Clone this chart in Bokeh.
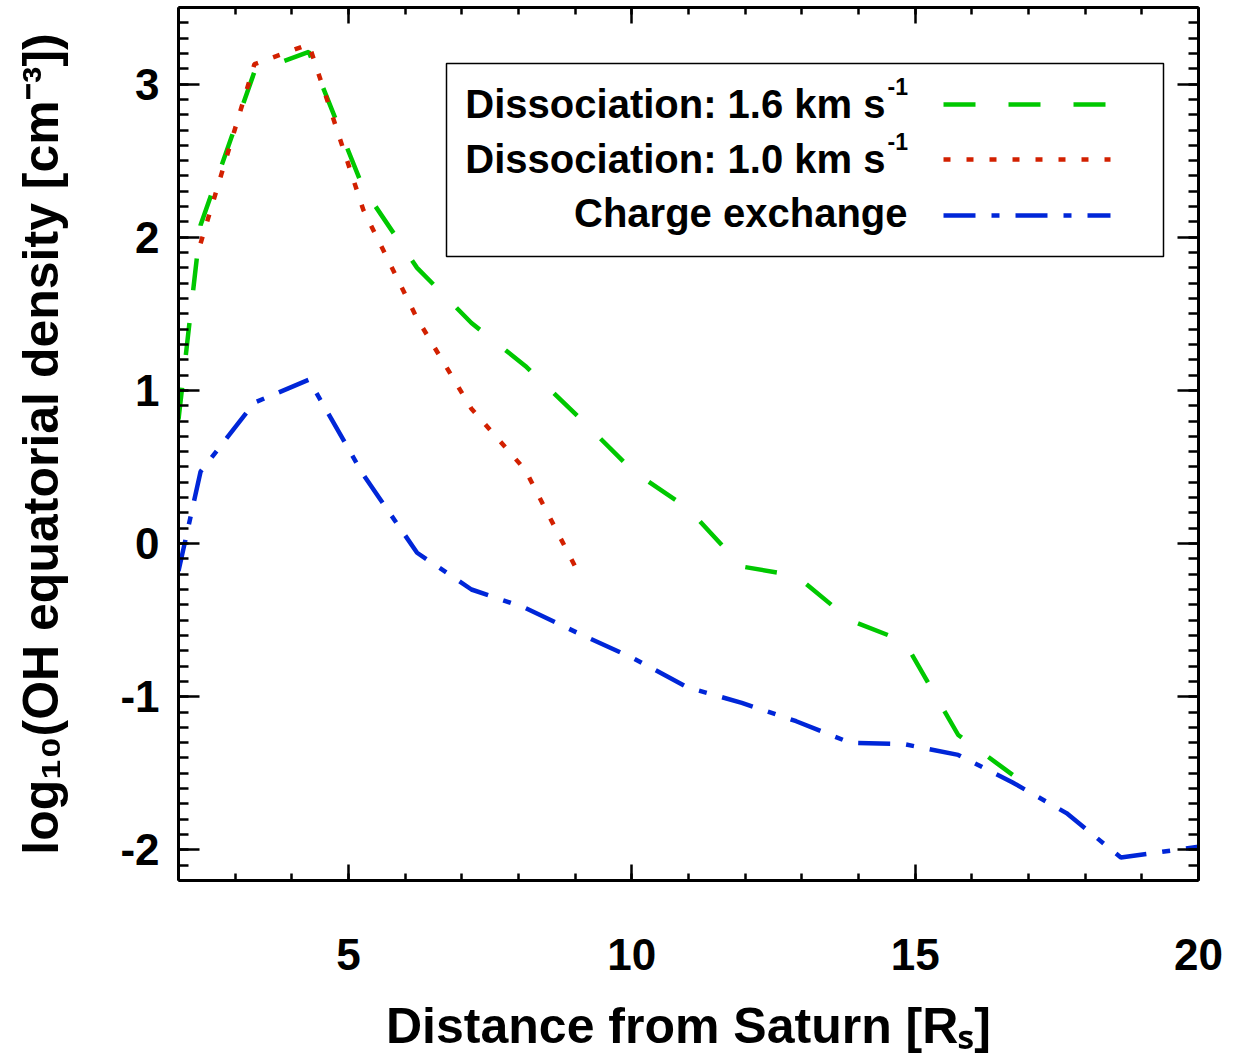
from bokeh.plotting import figure
from bokeh.models import (Label, BoxAnnotation, LinearAxis, SingleIntervalTicker,
                          Range1d)
from bokeh.embed import file_html
from bokeh.resources import INLINE

# ---------------- data ----------------
green_r = [2.00, 2.39, 3.34, 4.30, 5.26, 6.21, 7.17, 8.12, 9.08, 10.03, 10.99,
           11.94, 12.90, 13.85, 14.81, 15.76, 16.72]
green_logn = [0.81, 2.08, 3.08, 3.21, 2.32, 1.80, 1.44, 1.16, 0.82, 0.47, 0.23,
              -0.15, -0.21, -0.50, -0.64, -1.25, -1.51]

red_r = [2.39, 3.34, 4.30, 5.26, 6.21, 7.17, 8.12, 9.00]
red_logn = [1.96, 3.13, 3.26, 2.18, 1.47, 0.88, 0.48, -0.15]

blue_r = [2.00, 2.39, 3.34, 4.30, 5.26, 6.21, 7.17, 8.12, 9.08, 10.03, 10.99,
          11.94, 12.90, 13.85, 14.81, 15.76, 16.72, 17.67, 18.63, 20.00]
blue_logn = [-0.18, 0.47, 0.92, 1.07, 0.45, -0.06, -0.30, -0.42, -0.59, -0.75,
             -0.94, -1.04, -1.16, -1.30, -1.31, -1.38, -1.56, -1.76, -2.05, -1.98]

legend_labels = ["Dissociation: 1.6 km s", "Dissociation: 1.0 km s", "Charge exchange"]
legend_sups = ["-1", "-1", ""]

x_title = "Distance from Saturn [R\u209b]"
y_title = "log\u2081\u2080(OH equatorial density [cm\u207b\u00b3])"
y_tick_text = {-2: "-2", -1: "-1"}

x_ticks_interval = 5
y_ticks_interval = 1

GREEN = "#00c800"
RED = "#d22000"
BLUE = "#0026d8"
FONT = "Liberation Sans"

# ---------------- figure ----------------
XR = (2, 20)
YR = (-2.2, 3.5)
FRAME_W, FRAME_H = 1020, 873
PX_L, PY_T = 178, 7
p = figure(frame_width=FRAME_W, frame_height=FRAME_H,
           x_range=Range1d(*XR), y_range=Range1d(*YR),
           output_backend="svg", toolbar_location=None,
           min_border_left=PX_L, min_border_right=30,
           min_border_top=PY_T, min_border_bottom=1059 - PY_T - FRAME_H,
           x_axis_location=None, y_axis_location=None)
p.outline_line_color = None
p.grid.visible = False
p.background_fill_color = "white"
p.border_fill_color = "white"


# page-pixel -> data helpers (annotation layout only)
def dx(px):
    return XR[0] + (px - PX_L) * (XR[1] - XR[0]) / FRAME_W


def dy(py):
    return YR[1] - (py - PY_T) * (YR[1] - YR[0]) / FRAME_H


def make_axis(horizontal, labels):
    if horizontal:
        t = SingleIntervalTicker(interval=x_ticks_interval, num_minor_ticks=5)
    else:
        t = SingleIntervalTicker(interval=y_ticks_interval, num_minor_ticks=10)
    ax = LinearAxis(ticker=t)
    ax.axis_line_width = 3
    ax.axis_line_color = "black"
    ax.major_tick_out = 0
    ax.minor_tick_out = 0
    ax.major_tick_in = 16 if horizontal else 21
    ax.minor_tick_in = 7 if horizontal else 10
    ax.major_tick_line_width = 2.5
    ax.minor_tick_line_width = 2.5
    ax.major_tick_line_color = "black"
    ax.minor_tick_line_color = "black"
    if labels:
        ax.major_label_text_font = FONT
        ax.major_label_text_font_style = "bold"
        ax.major_label_text_font_size = "44px"
        ax.major_label_text_color = "black"
        ax.major_label_standoff = 58 if horizontal else 19
        ax.axis_label_text_font = FONT
        ax.axis_label_text_font_style = "bold"
        ax.axis_label_text_font_size = "50px"
        ax.axis_label_text_color = "black"
        if horizontal:
            ax.axis_label = x_title
            ax.axis_label_standoff = 25
        else:
            ax.axis_label = y_title
            ax.axis_label_standoff = 48
            ax.major_label_overrides = y_tick_text
    else:
        ax.major_label_text_font_size = "1px"
        ax.major_label_text_color = None
        ax.major_label_standoff = 0
    return ax


p.add_layout(make_axis(True, True), "below")
p.add_layout(make_axis(True, False), "above")
p.add_layout(make_axis(False, True), "left")
p.add_layout(make_axis(False, False), "right")

# ---------------- data lines ----------------
p.line(green_r, green_logn, line_color=GREEN, line_width=4.5, line_dash="32 33")
p.line(red_r, red_logn, line_color=RED, line_width=4.5, line_dash="7 16")
p.line(blue_r, blue_logn, line_color=BLUE, line_width=4.5, line_dash="32 16 8 16")

# ---------------- legend (labels left, samples right) ----------------
box = BoxAnnotation(left=dx(446), right=dx(1163), top=dy(63), bottom=dy(256),
                    fill_color="white", fill_alpha=1.0, line_color="black",
                    line_alpha=1.0, line_width=1.5, level="underlay")
p.add_layout(box)

row_line_y = [104, 159, 215]
row_text_y = [103, 158, 212]      # anchor rows for 40px labels
row_sup_y = [86, 141]             # anchor rows for superscripts
styles = [(GREEN, "32 33"), (RED, "7 16"), (BLUE, "32 16 8 16")]
for i, (lab, sup) in enumerate(zip(legend_labels, legend_sups)):
    col, dash = styles[i]
    p.line([dx(943), dx(1110)], [dy(row_line_y[i]), dy(row_line_y[i])],
           line_color=col, line_width=4.5, line_dash=dash)
    right_px = 885 if sup else 907
    p.add_layout(Label(x=dx(right_px), y=dy(row_text_y[i]), text=lab,
                       text_font=FONT, text_font_style="bold",
                       text_font_size="40px", text_align="right",
                       text_baseline="alphabetic", text_color="black"))
    if sup:
        p.add_layout(Label(x=dx(887), y=dy(row_sup_y[i]), text=sup,
                           text_font=FONT, text_font_style="bold",
                           text_font_size="23px", text_align="left",
                           text_baseline="alphabetic", text_color="black"))

open("out.html", "w").write(file_html(p, INLINE))
